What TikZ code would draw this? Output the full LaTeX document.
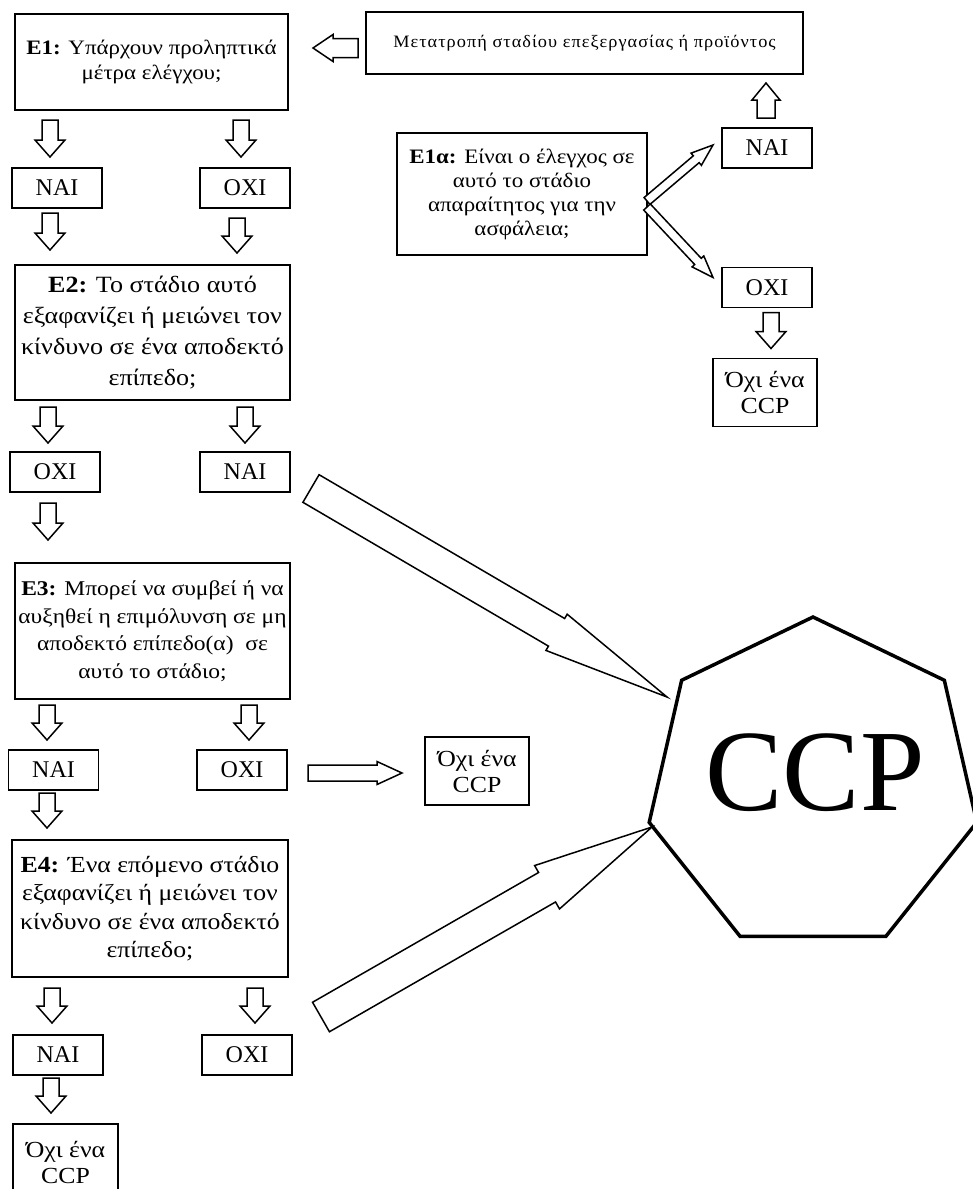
\documentclass[tikz,border=0pt]{standalone}
\usepackage{fontspec}
\setmainfont{Liberation Serif}[FakeStretch=1.12]
\newfontfamily\plainserif{Liberation Serif}
\newfontfamily\topfont{Liberation Serif}[FakeStretch=1.05,LetterSpace=6]
\usetikzlibrary{calc,shapes.geometric}

\newcommand\blockar[5]{%
  \coordinate (bA) at (#1);
  \coordinate (bB) at (#2);
  \coordinate (bN) at ($(bB)!#5!(bA)$);
  \draw[barrow] ($(bA)!#3!90:(bB)$) -- ($(bN)!#3!-90:(bA)$) -- ($(bN)!#4!-90:(bA)$) -- (bB)
     -- ($(bN)!#4!90:(bA)$) -- ($(bN)!#3!90:(bA)$) -- ($(bA)!#3!-90:(bB)$) -- cycle;}
\newcommand\varr[5]{%
  \coordinate (vx) at (#3,0);
  \blockar{$(#1.south -| vx)+(0,#4)$}{$(#2.north -| vx)+(0,-#5)$}{8pt}{15pt}{17pt}}

\begin{document}
\begin{tikzpicture}[x=1pt,y=-1pt,
  box/.style={draw, line width=1.7pt, inner sep=0pt, outer sep=0pt, align=center},
  yn/.style={box, minimum width=90pt, minimum height=40pt, font=\plainserif\fontsize{24}{26}\selectfont},
  noccp/.style={box, minimum width=104pt, minimum height=68pt, font=\fontsize{23}{26}\selectfont},
  barrow/.style={draw, line width=1.5pt, fill=white, line join=miter, miter limit=20}]
\useasboundingbox (0,0) rectangle (973,1189);

% top box
\node[box, minimum width=437pt, minimum height=62pt, font=\topfont\fontsize{17.4}{20}\selectfont] (mod) at (584.5,43)
  {Μετατροπή σταδίου επεξεργασίας ή προϊόντος};

% E1
\node[box, minimum width=273pt, minimum height=96pt, font=\fontsize{20.5}{25.5}\selectfont] (e1) at (151.5,62)
  {\textbf{E1:} Υπάρχουν προληπτικά\\μέτρα ελέγχου;};
\node[yn] (nai1) at (57,188) {NAI};
\node[yn] (oxi1) at (245,188) {OXI};

% E2
\node[box, minimum width=275pt, minimum height=135pt, font=\fontsize{23.3}{31}\selectfont] (e2) at (152.5,332.5)
  {\textbf{E2:} Το στάδιο αυτό\\εξαφανίζει ή μειώνει τον\\κίνδυνο σε ένα αποδεκτό\\επίπεδο;};
\node[yn] (oxi2) at (55,472) {OXI};
\node[yn] (nai2) at (245,472) {NAI};

% E3
\node[box, minimum width=275pt, minimum height=136pt, font=\fontsize{21}{27.5}\selectfont] (e3) at (152.5,631)
  {\textbf{E3:} Μπορεί να συμβεί ή να\\αυξηθεί η επιμόλυνση σε μη\\αποδεκτό επίπεδο(α)\ \ σε\\αυτό το στάδιο;};
\node[yn] (nai3) at (53.5,770) {NAI};
\node[yn] (oxi3) at (242,770) {OXI};
\node[noccp] (nc2) at (477,771) {Όχι ένα\\CCP};

% E4
\node[box, minimum width=276pt, minimum height=137pt, font=\fontsize{23}{28.5}\selectfont] (e4) at (150,908.5)
  {\textbf{E4:} Ένα επόμενο στάδιο\\εξαφανίζει ή μειώνει τον\\κίνδυνο σε ένα αποδεκτό\\επίπεδο;};
\node[yn] (nai4) at (58,1055) {NAI};
\node[yn] (oxi4) at (247,1055) {OXI};
\node[noccp, minimum width=105pt, minimum height=76pt] (fin) at (65.5,1162) {Όχι ένα\\CCP};

% E1a
\node[box, minimum width=250pt, minimum height=122pt, font=\fontsize{20.5}{24}\selectfont] (e1a) at (522,194)
  {\textbf{E1α:} Είναι ο έλεγχος σε\\αυτό το στάδιο\\απαραίτητος για την\\ασφάλεια;};
\node[yn] (naiA) at (767,148) {NAI};
\node[yn] (oxiA) at (767,287.5) {OXI};
\node[noccp] (ncA) at (765,392.5) {Όχι ένα\\CCP};

% CCP heptagon
\node[regular polygon, regular polygon sides=7, draw, line width=3.5pt, minimum size=336pt, inner sep=0pt] (ccp) at (813,785) {};
\node[font=\plainserif\fontsize{116}{120}\selectfont, inner sep=0pt] (ccplbl) at (815,773) {CCP};

% vertical arrows
\varr{e1}{nai1}{50}{10}{11}
\varr{e1}{oxi1}{241}{10}{11}
\varr{nai1}{e2}{50}{5}{15}
\varr{oxi1}{e2}{237}{10}{12}
\varr{e2}{oxi2}{48}{7}{9}
\varr{e2}{nai2}{245}{7}{9}
\varr{oxi2}{e3}{48}{11}{23}
\varr{e3}{nai3}{47}{6}{10}
\varr{e3}{oxi3}{249}{6}{10}
\varr{nai3}{e4}{47}{3}{12}
\varr{e4}{nai4}{52}{11}{12}
\varr{e4}{oxi4}{255}{11}{12}
\varr{nai4}{fin}{51}{3}{11}
\varr{oxiA}{ncA}{771}{5}{10}

% up arrow to modification box
\blockar{$(naiA.north)+(-1,-10)$}{$(mod.south -| naiA.north)+(-1,9)$}{9pt}{14pt}{17pt}
% left arrow to E1
\blockar{$(mod.west)+(-8,5)$}{$(e1.east)+(25,-14)$}{9.5pt}{13.5pt}{20pt}
% right arrow to "not a CCP"
\blockar{$(oxi3.east)+(21,3)$}{$(nc2.west)+(-23,2)$}{8pt}{11.5pt}{25pt}
% E1a diagonal arrows
\blockar{$(e1a.east)+(0,7)$}{$(naiA.west)+(-9,-3)$}{4.5pt}{8pt}{22pt}
\blockar{$(e1a.east)+(0,13)$}{$(oxiA.west)+(-9,-10)$}{4.5pt}{8pt}{22pt}
% big arrows to CCP
\blockar{$(nai2.east)+(21,16.5)$}{$(ccp.center)+(-146,-88)$}{16pt}{21pt}{128pt}
\blockar{$(oxi4.east)+(29,-38)$}{$(ccp.center)+(-161,42)$}{17pt}{25pt}{121pt}
\end{tikzpicture}
\end{document}
